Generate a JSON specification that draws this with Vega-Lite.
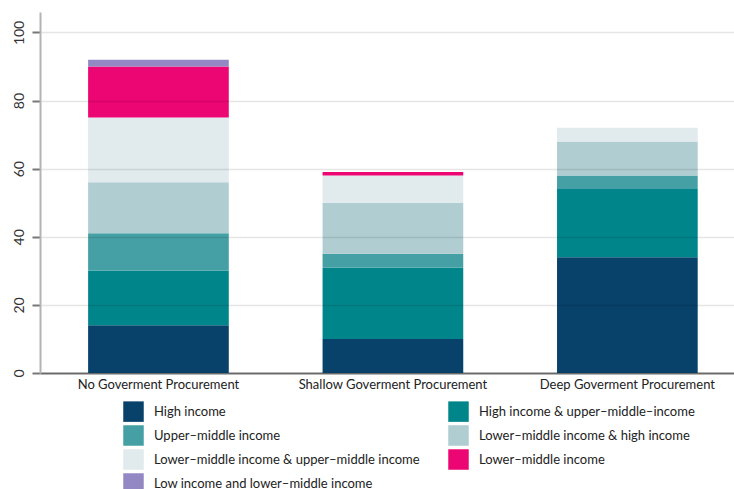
{
  "$schema": "https://vega.github.io/schema/vega-lite/v6.json",
  "width": 694,
  "height": 361,
  "autosize": {"type": "none"},
  "padding": {"left": 40, "top": 12, "right": 0, "bottom": 116},
  "background": "white",
  "config": {
    "view": {"stroke": null},
    "font": "Lato"
  },
  "data": {
    "values": [
      {"proc": "No Goverment Procurement", "group": "High income", "k": 1, "value": 14},
      {"proc": "No Goverment Procurement", "group": "High income & upper–middle–income", "k": 2, "value": 16},
      {"proc": "No Goverment Procurement", "group": "Upper–middle income", "k": 3, "value": 11},
      {"proc": "No Goverment Procurement", "group": "Lower–middle income & high income", "k": 4, "value": 15},
      {"proc": "No Goverment Procurement", "group": "Lower–middle income & upper–middle income", "k": 5, "value": 19},
      {"proc": "No Goverment Procurement", "group": "Lower–middle income", "k": 6, "value": 15},
      {"proc": "No Goverment Procurement", "group": "Low income and lower–middle income", "k": 7, "value": 2},
      {"proc": "Shallow Goverment Procurement", "group": "High income", "k": 1, "value": 10},
      {"proc": "Shallow Goverment Procurement", "group": "High income & upper–middle–income", "k": 2, "value": 21},
      {"proc": "Shallow Goverment Procurement", "group": "Upper–middle income", "k": 3, "value": 4},
      {"proc": "Shallow Goverment Procurement", "group": "Lower–middle income & high income", "k": 4, "value": 15},
      {"proc": "Shallow Goverment Procurement", "group": "Lower–middle income & upper–middle income", "k": 5, "value": 8},
      {"proc": "Shallow Goverment Procurement", "group": "Lower–middle income", "k": 6, "value": 1},
      {"proc": "Deep Goverment Procurement", "group": "High income", "k": 1, "value": 34},
      {"proc": "Deep Goverment Procurement", "group": "High income & upper–middle–income", "k": 2, "value": 20},
      {"proc": "Deep Goverment Procurement", "group": "Upper–middle income", "k": 3, "value": 4},
      {"proc": "Deep Goverment Procurement", "group": "Lower–middle income & high income", "k": 4, "value": 10},
      {"proc": "Deep Goverment Procurement", "group": "Lower–middle income & upper–middle income", "k": 5, "value": 4}
    ]
  },
  "mark": {"type": "bar"},
  "encoding": {
    "x": {
      "field": "proc",
      "type": "nominal",
      "sort": null,
      "title": null,
      "scale": {"paddingInner": 0.4, "paddingOuter": 0.18, "align": 0.57},
      "axis": {
        "labelAngle": 0,
        "labelFontSize": 13,
        "labelColor": "#222",
        "labelPadding": 5,
        "labelLimit": 400,
        "ticks": false,
        "domainColor": "#777",
        "domainWidth": 2,
        "grid": false
      }
    },
    "y": {
      "field": "value",
      "type": "quantitative",
      "stack": "zero",
      "title": null,
      "scale": {"domain": [0, 106], "nice": false},
      "axis": {
        "values": [0, 20, 40, 60, 80, 100],
        "labelAngle": 270,
        "labelAlign": "center",
        "labelBaseline": "bottom",
        "labelFontSize": 14,
        "labelColor": "#333",
        "labelPadding": 6,
        "tickColor": "#777",
        "tickWidth": 2,
        "tickSize": 8,
        "domainColor": "#b3b3b3",
        "domainWidth": 2,
        "gridColor": "#000",
        "gridOpacity": 0.1,
        "gridWidth": 1.5,
        "zindex": 1
      }
    },
    "order": {"field": "k", "type": "quantitative"},
    "color": {
      "field": "group",
      "type": "nominal",
      "title": null,
      "scale": {
        "domain": [
          "High income",
          "High income & upper–middle–income",
          "Upper–middle income",
          "Lower–middle income & high income",
          "Lower–middle income & upper–middle income",
          "Lower–middle income",
          "Low income and lower–middle income"
        ],
        "range": ["#08426a", "#00868a", "#45a0a5", "#b0cdd2", "#e1eaed", "#ec0673", "#9488c4"]
      },
      "legend": {
        "orient": "none",
        "legendX": 83,
        "legendY": 389,
        "direction": "horizontal",
        "columns": 2,
        "symbolType": "square",
        "symbolSize": 420,
        "symbolStrokeWidth": 0,
        "symbolOpacity": 1,
        "labelFontSize": 13,
        "labelColor": "#222",
        "labelOffset": 10,
        "rowPadding": 3,
        "columnPadding": 28,
        "labelLimit": 400
      }
    }
  }
}
